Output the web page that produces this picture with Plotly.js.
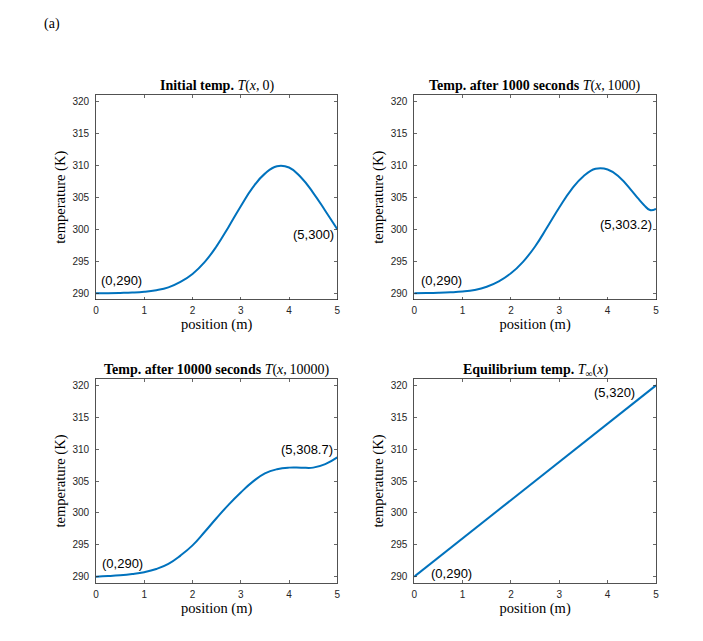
<!DOCTYPE html>
<html>
<head>
<meta charset="utf-8">
<script src="https://cdn.plot.ly/plotly-3.0.1.min.js"></script>
<style>html,body{margin:0;padding:0;background:#fff;}#chart{width:703px;height:641px;}</style>
</head>
<body>
<div id="chart"></div>
<script>
// ---- data ----
const positions = [0,0.25,0.5,0.75,1,1.25,1.5,1.75,2,2.25,2.5,2.75,3,3.25,3.5,3.75,4,4.25,4.5,4.75,5];
const tempInitial = [290.0,290.0,290.03,290.08,290.2,290.45,290.9,291.75,293.0,294.85,297.35,300.4,303.6,306.55,308.7,309.85,309.65,308.1,305.7,302.9,300.0];
const positions1000 = [0,0.25,0.5,0.75,1,1.25,1.5,1.75,2,2.25,2.5,2.75,3,3.25,3.5,3.75,4,4.25,4.5,4.625,4.75,4.875,5];
const temp1000 = [290.0,290.02,290.06,290.13,290.25,290.5,291.0,291.85,293.1,294.9,297.3,300.3,303.4,306.2,308.3,309.45,309.35,308.1,306.0,304.85,303.8,303.0,303.2];
const temp10000 = [290.0,290.08,290.2,290.4,290.7,291.2,292.0,293.3,294.9,297.0,299.2,301.3,303.2,304.9,306.2,306.85,307.1,307.1,307.1,307.65,308.7];
const positionsEq = [0,5];
const tempEq = [290,320];

const panelTitles = [
  "<b>Initial temp.</b> <i>T</i>(<i>x</i>,\u20090)",
  "<b>Temp. after 1000 seconds</b> <i>T</i>(<i>x</i>,\u20091000)",
  "<b>Temp. after 10000 seconds</b> <i>T</i>(<i>x</i>,\u200910000)",
  "<b>Equilibrium temp.</b> <i>T</i><sub>∞</sub>(<i>x</i>)"
];
const startLabels = ["(0,290)","(0,290)","(0,290)","(0,290)"];
const endLabels = ["(5,300)","(5,303.2)","(5,308.7)","(5,320)"];
const startLabelPos = [[0.07,292.0],[0.09,292.0],[0.09,292.0],[0.30,290.5]];
const endLabelPos = [[4.98,299.1],[4.95,300.75],[4.95,309.9],[4.60,318.95]];
const xTicks = [0,1,2,3,4,5];
const yTicks = [290,295,300,305,310,315,320];

// ---- styling ----
const lineColor = "#0072BD";
const axisColor = "#262626";
const serif = "Liberation Serif, Times New Roman, serif";
const sans = "Liberation Sans, Arial, sans-serif";

const series = [
  {x: positions, y: tempInitial},
  {x: positions1000, y: temp1000},
  {x: positions, y: temp10000},
  {x: positionsEq, y: tempEq}
];

const traces = series.map((s, i) => ({
  x: s.x, y: s.y, type: "scatter", mode: "lines",
  line: {color: lineColor, width: 2, shape: i === 3 ? "linear" : "spline", smoothing: 1.3},
  xaxis: i === 0 ? "x" : "x" + (i + 1),
  yaxis: i === 0 ? "y" : "y" + (i + 1),
  showlegend: false, hoverinfo: "skip"
}));

function xax(domain, anchor) {
  return {
    domain: domain, anchor: anchor, range: [0, 5],
    tickvals: xTicks, ticks: "inside", ticklen: 3, tickwidth: 0.7, tickcolor: axisColor,
    showline: true, linecolor: axisColor, linewidth: 0.8, mirror: "ticks",
    showgrid: false, zeroline: false, ticklabelstandoff: 2,
    tickfont: {family: sans, size: 10, color: axisColor},
    title: {text: "position (m)", font: {family: serif, size: 14.5, color: "#000"}, standoff: 1}
  };
}
function yax(domain, anchor) {
  return {
    domain: domain, anchor: anchor, range: [289, 321],
    tickvals: yTicks, ticks: "inside", ticklen: 3, tickwidth: 0.7, tickcolor: axisColor,
    showline: true, linecolor: axisColor, linewidth: 0.8, mirror: "ticks",
    showgrid: false, zeroline: false, ticklabelstandoff: 4,
    tickfont: {family: sans, size: 10, color: axisColor},
    title: {text: "temperature (K)", font: {family: serif, size: 14.5, color: "#000"}, standoff: 3}
  };
}

const xL = [0, 0.4309], xR = [0.5682, 1];
const yT = [0.5809, 1], yB = [0, 0.418];

const annotations = [];
const refs = [["x","y"],["x2","y2"],["x3","y3"],["x4","y4"]];
const xDomains = [xL, xR, xL, xR];
const yDomains = [yT, yT, yB, yB];
for (let i = 0; i < 4; i++) {
  annotations.push({
    xref: "paper", yref: "paper",
    x: (xDomains[i][0] + xDomains[i][1]) / 2, y: yDomains[i][1],
    yshift: 9, text: panelTitles[i], showarrow: false,
    xanchor: "center", yanchor: "middle",
    font: {family: serif, size: 14, color: "#000"}
  });
  annotations.push({
    xref: refs[i][0], yref: refs[i][1], x: startLabelPos[i][0], y: startLabelPos[i][1],
    text: startLabels[i], showarrow: false, xanchor: "left", yanchor: "middle",
    font: {family: sans, size: 13, color: "#000"}
  });
  annotations.push({
    xref: refs[i][0], yref: refs[i][1], x: endLabelPos[i][0], y: endLabelPos[i][1],
    text: endLabels[i], showarrow: false, xanchor: "right", yanchor: "middle",
    font: {family: sans, size: 13, color: "#000"}
  });
}
annotations.push({
  xref: "paper", yref: "paper", x: -0.078, y: 1.146, text: "(a)", showarrow: false,
  xanchor: "center", yanchor: "middle", font: {family: serif, size: 14, color: "#000"}
});

const layout = {
  width: 703, height: 641,
  margin: {l: 96, r: 46.5, t: 95, b: 58},
  paper_bgcolor: "#fff", plot_bgcolor: "#fff",
  xaxis: xax(xL, "y"), yaxis: yax(yT, "x"),
  xaxis2: xax(xR, "y2"), yaxis2: yax(yT, "x2"),
  xaxis3: xax(xL, "y3"), yaxis3: yax(yB, "x3"),
  xaxis4: xax(xR, "y4"), yaxis4: yax(yB, "x4"),
  annotations: annotations,
  showlegend: false
};

Plotly.newPlot("chart", traces, layout, {staticPlot: true, displayModeBar: false});
</script>
</body>
</html>
